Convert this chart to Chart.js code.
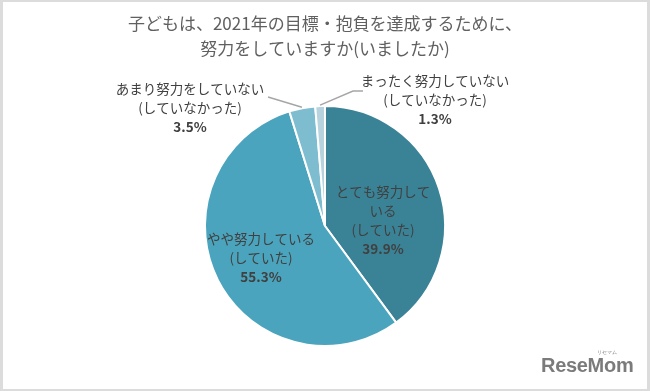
<!DOCTYPE html>
<html>
<head>
<meta charset="utf-8">
<script src="https://cdn.jsdelivr.net/npm/chart.js@4"></script>
<style>
  html, body { margin: 0; padding: 0; background: #fff; }
  #wrap { position: relative; width: 650px; height: 391px; }
  #frame { position: absolute; left: 0; top: 0; width: 650px; height: 391px; box-sizing: border-box;
           border: 2px solid #dcdcdc; border-left-width: 3px; border-right-width: 3px; pointer-events: none; }
  #logo { position: absolute; left: 541px; top: 352px; font-family: "Liberation Sans", sans-serif; font-weight: bold;
          font-size: 20px; line-height: 26px; color: #7b7b7b; letter-spacing: -0.3px; }
  #logo small { position: absolute; left: 56px; top: -3px; font-size: 5px; line-height: 6px; font-weight: normal; letter-spacing: 0; }
</style>
</head>
<body>
<div id="wrap">
  <canvas id="pie" width="650" height="391"></canvas>
  <div id="frame"></div>
  <div id="logo">ReseMom<small>リセマム</small></div>
</div>
<script>
// Pie: does the child make an effort to reach their 2021 goals

const titleLines = ['子どもは、2021年の目標・抱負を達成するために、', '努力をしていますか(いましたか)'];
const categories = ['とても努力している(していた)', 'やや努力している(していた)',
                    'あまり努力をしていない(していなかった)', 'まったく努力していない(していなかった)'];
const categoryLines = [
  ['とても努力して', 'いる', '(していた)'],
  ['やや努力している', '(していた)'],
  ['あまり努力をしていない', '(していなかった)'],
  ['まったく努力していない', '(していなかった)']
];
const shares = [39.9, 55.3, 3.5, 1.3];

const sliceColors = ['#3a8397', '#4ba4bd', '#7ebdd0', '#b7d4de'];

// where each label block sits, relative to the pie centre
const labelSpots = [
  { dx: 58, dy: -6 },
  { dx: -64, dy: 32 },
  { dx: -135, dy: -118, leader: [[78, -11]] },
  { dx: 110, dy: -126, leader: [[-72, -9], [-82, -9]] }
];

const FONT = '"Noto Sans CJK JP", "Noto Sans", sans-serif';

const pieLabels = {
  id: 'pieLabels',
  afterDatasetsDraw(chart) {
    const c = chart.ctx;
    const arcs = chart.getDatasetMeta(0).data;
    c.save();
    c.textAlign = 'center';
    c.textBaseline = 'middle';
    arcs.forEach((arc, i) => {
      const spot = labelSpots[i];
      const ax = arc.x + spot.dx, ay = arc.y + spot.dy;
      if (spot.leader) {
        const mid = (arc.startAngle + arc.endAngle) / 2;
        const ex = arc.x + Math.cos(mid) * (arc.outerRadius + 1);
        const ey = arc.y + Math.sin(mid) * (arc.outerRadius + 1);
        c.strokeStyle = '#a6a6a6';
        c.lineWidth = 1.5;
        c.beginPath();
        spot.leader.forEach((p, k) => {
          if (k === 0) c.moveTo(ax + p[0], ay + p[1]); else c.lineTo(ax + p[0], ay + p[1]);
        });
        c.lineTo(ex, ey);
        c.stroke();
      }
      const lines = categoryLines[i].concat([shares[i].toFixed(1) + '%']);
      const lh = 19;
      const top = ay - (lines.length - 1) * lh / 2;
      c.fillStyle = '#404040';
      lines.forEach((t, k) => {
        const isPct = k === lines.length - 1;
        c.font = (isPct ? 'bold ' : '') + '13.5px ' + FONT;
        c.fillText(t, ax, top + k * lh);
      });
    });
    c.restore();
  }
};

new Chart(document.getElementById('pie'), {
  type: 'pie',
  data: {
    labels: categories,
    datasets: [{
      data: shares,
      backgroundColor: sliceColors,
      borderColor: '#ffffff',
      borderWidth: 2
    }]
  },
  options: {
    responsive: false,
    animation: false,
    layout: { padding: { top: 0, bottom: 44, left: 0, right: 0 } },
    plugins: {
      legend: { display: false },
      tooltip: { enabled: false },
      title: {
        display: true,
        text: titleLines,
        color: '#606060',
        font: { family: FONT, size: 17, weight: 'normal', lineHeight: 25 / 17 },
        padding: { top: 11, bottom: 44 }
      }
    }
  },
  plugins: [pieLabels]
});
</script>
</body>
</html>
